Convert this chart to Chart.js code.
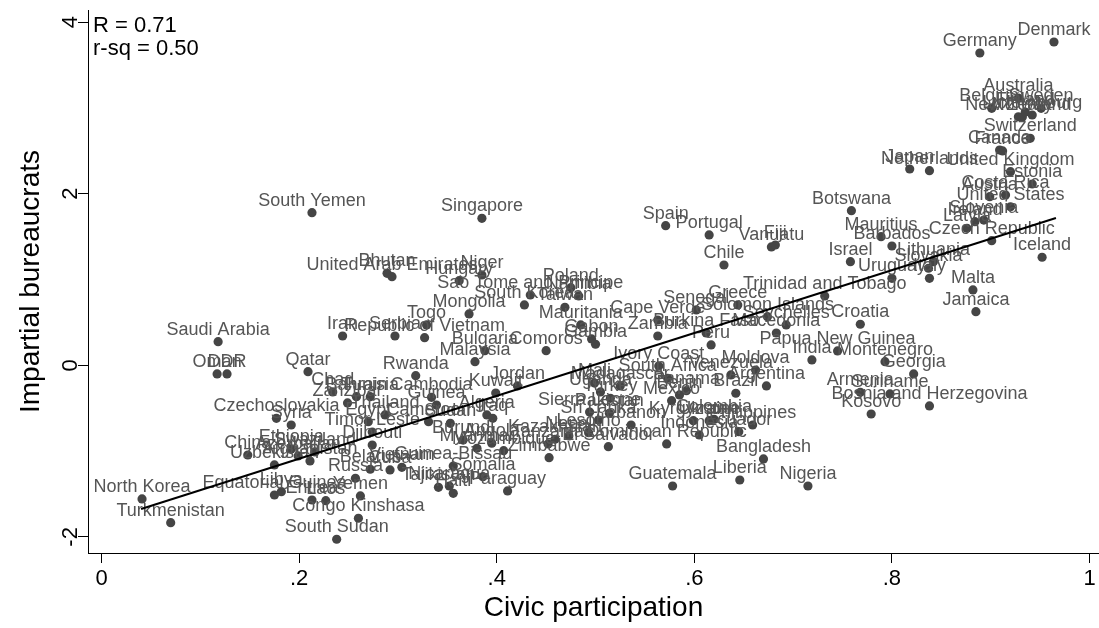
<!DOCTYPE html>
<html><head><meta charset="utf-8">
<script src="https://cdn.jsdelivr.net/npm/chart.js@4"></script>
<style>html,body{margin:0;padding:0;background:#fff;overflow:hidden}</style>
</head><body>
<canvas id="c" width="1099" height="628"></canvas>
<script>
const countries = [
"Denmark","Germany","Australia","Belgium","Sweden","New Zealand","Norway","Finland","Luxembourg","Switzerland",
"Canada","France","Japan","Netherlands","United Kingdom","Estonia","Costa Rica","Austria","United States","Slovenia",
"Ireland","Latvia","Czech Republic","Iceland","Botswana","Mauritius","Barbados","Israel","Lithuania","Slovakia",
"Uruguay","Italy","Malta","Jamaica","Trinidad and Tobago","Croatia","Papua New Guinea","India","Montenegro","Georgia",
"Armenia","Suriname","Bosnia and Herzegovina","Kosovo","Spain","Portugal","Vanuatu","Fiji","Chile","Senegal",
"Greece","Solomon Islands","Seychelles","Macedonia","Burkina Faso","Peru","Zambia","Cape Verde","Singapore","Bhutan",
"United Arab Emirates","Niger","Hungary","Sao Tome and Principe","Poland","Namibia","Taiwan","South Korea","Mauritania","Mongolia",
"Togo","Serbia","Republic of Vietnam","Iran","Bulgaria","Comoros","Malaysia","Rwanda","Gabon","Gambia",
"Saudi Arabia","Oman","DDR","South Yemen","Qatar","North Korea","Turkmenistan","South Sudan","Congo Kinshasa","Guatemala",
"Liberia","Nigeria","Bangladesh","Chad","Bahrain","Tunisia","Cambodia","Kuwait","Jordan","Guinea",
"Zanzibar","Egypt","Algeria","Sudan","Timor-Leste","Djibouti","Guinea-Bissau","Zimbabwe","Somalia","Paraguay",
"Tajikistan","Haiti","Nicaragua","Czechoslovakia","Syria","China","Uzbekistan","Ethiopia","Equatorial Guinea","Libya",
"Eritrea","Laos","Yemen","Argentina","Brazil","Moldova","Venezuela","Ivory Coast","South Africa","Panama",
"Benin","Philippines","Ecuador","Indonesia","Dominican Republic","El Salvador","Kyrgyzstan","Lebanon","Pakistan","Uganda",
"Mali","Kazakhstan","Lesotho","Sierra Leone","Thailand","Iraq","Cameroon","Burundi","Angola","Myanmar",
"Mozambique","Tanzania","Nepal","Vietnam","Cuba","Belarus","Russia","Azerbaijan","Afghanistan","Swaziland",
"Turkey","Ukraine","Colombia","Mexico","Madagascar","Sri Lanka"
];
const civic = [
0.964,0.889,0.928,0.901,0.951,0.928,0.932,0.935,0.942,0.940,
0.909,0.912,0.818,0.838,0.920,0.942,0.915,0.899,0.920,0.893,
0.884,0.876,0.901,0.952,0.759,0.789,0.800,0.758,0.842,0.837,
0.800,0.838,0.882,0.885,0.732,0.768,0.745,0.719,0.793,0.822,
0.768,0.798,0.838,0.779,0.571,0.615,0.678,0.682,0.630,0.602,
0.644,0.674,0.693,0.683,0.612,0.617,0.563,0.563,0.385,0.289,
0.294,0.385,0.362,0.434,0.475,0.483,0.469,0.428,0.485,0.372,
0.329,0.297,0.327,0.244,0.388,0.450,0.378,0.318,0.496,0.500,
0.118,0.117,0.127,0.213,0.209,0.041,0.070,0.238,0.260,0.578,
0.646,0.715,0.670,0.234,0.258,0.272,0.334,0.399,0.421,0.339,
0.249,0.270,0.390,0.353,0.274,0.274,0.356,0.453,0.386,0.411,
0.341,0.356,0.352,0.177,0.192,0.148,0.175,0.192,0.175,0.182,
0.213,0.227,0.262,0.673,0.642,0.662,0.637,0.564,0.573,0.592,
0.585,0.659,0.645,0.605,0.572,0.513,0.599,0.536,0.514,0.505,
0.499,0.459,0.493,0.494,0.287,0.396,0.331,0.366,0.395,0.380,
0.407,0.452,0.473,0.304,0.292,0.272,0.257,0.199,0.211,0.216,
0.515,0.615,0.620,0.577,0.525,0.503
];
const impartial = [
3.768,3.640,3.115,2.995,2.995,2.897,2.894,2.952,2.917,2.646,
2.509,2.498,2.288,2.268,2.256,2.113,1.985,1.965,1.848,1.693,
1.674,1.597,1.452,1.259,1.802,1.499,1.390,1.207,1.207,1.131,
1.014,1.014,0.878,0.625,0.808,0.478,0.167,0.062,0.042,-0.101,
-0.315,-0.334,-0.474,-0.568,1.627,1.519,1.379,1.402,1.169,0.645,
0.703,0.566,0.470,0.376,0.376,0.237,0.341,0.528,1.713,1.072,
1.033,1.052,0.986,0.819,0.904,0.808,0.676,0.703,0.470,0.598,
0.470,0.341,0.322,0.341,0.170,0.170,0.042,-0.121,0.307,0.245,
0.275,-0.101,-0.101,1.779,-0.075,-1.558,-1.834,-2.028,-1.783,-1.407,
-1.337,-1.407,-1.092,-0.311,-0.366,-0.366,-0.373,-0.323,-0.241,-0.464,
-0.439,-0.657,-0.579,-0.676,-0.778,-0.930,-1.174,-1.077,-1.298,-1.465,
-1.422,-1.492,-1.407,-0.618,-0.696,-1.046,-1.162,-0.975,-1.512,-1.473,
-1.570,-1.578,-1.523,-0.241,-0.326,-0.055,-0.113,-0.008,-0.152,-0.296,
-0.346,-0.696,-0.774,-0.812,-0.917,-0.949,-0.646,-0.696,-0.559,-0.311,
-0.207,-0.862,-0.786,-0.545,-0.579,-0.618,-0.657,-0.872,-0.909,-0.967,
-0.995,-0.917,-0.824,-1.189,-1.220,-1.212,-1.317,-1.057,-1.115,-1.010,
-0.385,-0.646,-0.629,-0.413,-0.241,-0.638
];
const fitX = [0.040, 0.966];
const fitY = [-1.675, 1.717];
const xTicks = [0, 0.2, 0.4, 0.6, 0.8, 1];
const xTickLabels = ['0', '.2', '.4', '.6', '.8', '1'];
const yTicks = [-2, 0, 2, 4];
const yTickLabels = ['-2', '0', '2', '4'];
const statLines = ['R = 0.71', 'r-sq = 0.50'];

const FONT = '"Liberation Sans", Arial, Helvetica, sans-serif';

const labelPlugin = {
  id: 'pointLabels',
  afterDatasetDraw(chart, args) {
    if (args.index !== 0) return;
    const ctx = chart.ctx;
    ctx.save();
    ctx.font = '18px ' + FONT;
    ctx.fillStyle = '#555555';
    ctx.textAlign = 'center';
    ctx.textBaseline = 'alphabetic';
    args.meta.data.forEach((pt, i) => ctx.fillText(countries[i], pt.x, pt.y - 7));
    ctx.restore();
  },
  afterDraw(chart) {
    const ctx = chart.ctx;
    const ys = chart.scales.y;
    ctx.save();
    ctx.fillStyle = '#000';
    ctx.font = '22px ' + FONT;
    ctx.textAlign = 'center';
    ctx.textBaseline = 'middle';
    yTicks.forEach((v, i) => {
      const py = ys.getPixelForValue(v);
      ctx.save();
      ctx.translate(ys.right - 17, py);
      ctx.rotate(-Math.PI / 2);
      ctx.fillText(yTickLabels[i], 0, 0);
      ctx.restore();
    });
    ctx.textAlign = 'left';
    ctx.textBaseline = 'alphabetic';
    const ca = chart.chartArea;
    statLines.forEach((t, i) => ctx.fillText(t, ca.left + 5, ca.top + 22 + i * 23));
    ctx.restore();
  }
};

new Chart(document.getElementById('c'), {
  type: 'scatter',
  data: {
    datasets: [
      {
        data: civic.map((x, i) => ({ x, y: impartial[i] })),
        pointRadius: 4.6,
        pointBackgroundColor: '#454545',
        pointBorderWidth: 0,
        order: 2
      },
      {
        type: 'line',
        data: fitX.map((x, i) => ({ x, y: fitY[i] })),
        borderColor: '#000',
        borderWidth: 2,
        pointRadius: 0,
        fill: false,
        order: 1
      }
    ]
  },
  options: {
    responsive: false,
    animation: false,
    events: [],
    layout: { autoPadding: false, padding: { top: 10, right: 0, bottom: 0, left: 0 } },
    plugins: { legend: { display: false }, tooltip: { enabled: false } },
    scales: {
      x: {
        type: 'linear', min: -0.0137, max: 1.0096,
        afterBuildTicks: s => { s.ticks = xTicks.map(v => ({ value: v })); },
        afterFit: s => { s.height = 75; s.paddingLeft = 0; s.paddingRight = 0; },
        ticks: {
          callback: (v, i) => xTickLabels[i],
          font: { size: 22, family: FONT }, color: '#000', padding: 3,
          maxRotation: 0, minRotation: 0, autoSkip: false
        },
        grid: { drawOnChartArea: false, drawTicks: true, tickLength: 10, color: '#000', lineWidth: 1 },
        border: { display: true, color: '#000', width: 1 },
        title: { display: true, text: 'Civic participation', font: { size: 28, family: FONT }, color: '#000', padding: { top: 0, bottom: 3 } }
      },
      y: {
        type: 'linear', min: -2.188, max: 4.141,
        afterBuildTicks: s => { s.ticks = yTicks.map(v => ({ value: v })); },
        afterFit: s => { s.width = 88; s.paddingTop = 0; s.paddingBottom = 0; },
        ticks: { display: false },
        grid: { drawOnChartArea: false, drawTicks: true, tickLength: 10, color: '#000', lineWidth: 1 },
        border: { display: true, color: '#000', width: 1 },
        title: { display: true, text: 'Impartial bureaucrats', font: { size: 28, family: FONT }, color: '#000', padding: { top: 14, bottom: 0 } }
      }
    }
  },
  plugins: [labelPlugin]
});
</script>
</body></html>
